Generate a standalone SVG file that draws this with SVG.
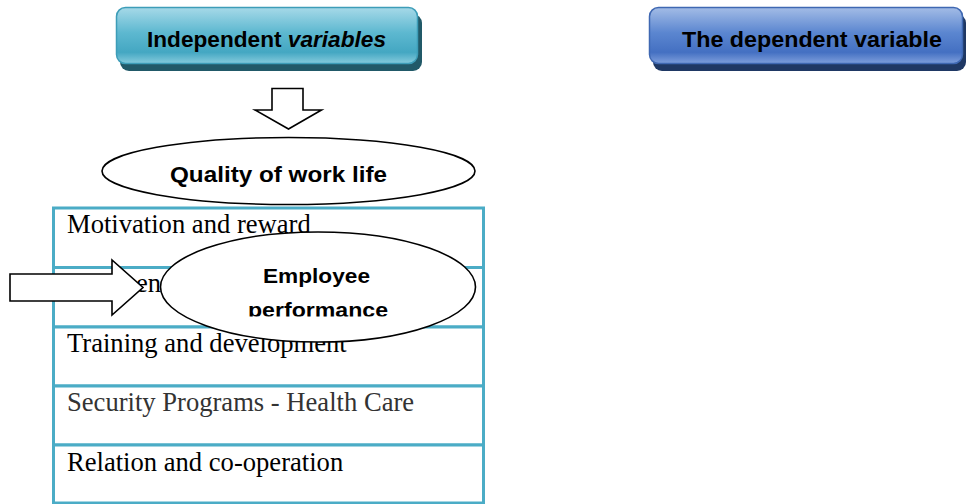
<svg xmlns="http://www.w3.org/2000/svg" width="966" height="504" viewBox="0 0 966 504">
<defs>
<linearGradient id="gTeal" x1="0" y1="0" x2="0" y2="1">
<stop offset="0" stop-color="#A6D9E8"/>
<stop offset="0.45" stop-color="#5DB8D0"/>
<stop offset="0.8" stop-color="#44A7C2"/>
<stop offset="1" stop-color="#86CBDD"/>
</linearGradient>
<linearGradient id="gBlue" x1="0" y1="0" x2="0" y2="1">
<stop offset="0" stop-color="#A3BCE6"/>
<stop offset="0.45" stop-color="#5B86D0"/>
<stop offset="0.8" stop-color="#4470C2"/>
<stop offset="1" stop-color="#7F9FDC"/>
</linearGradient>
<clipPath id="clipEmp"><rect x="150" y="230" width="340" height="86.5"/></clipPath>
</defs>
<style>
.cal{font-family:"Liberation Sans","Open Sans",Arial,sans-serif;font-weight:bold;fill:#000}
.tnr{font-family:"Liberation Serif","Times New Roman",serif;font-size:26.6px;fill:#000}
.row{fill:#fff;stroke:#4BACC6;stroke-width:3}
.blk{fill:#fff;stroke:#000;stroke-width:1.6}
</style>

<g id="independent-variables">
<rect x="120" y="14" width="302" height="57" rx="9" fill="#215968"/>
<rect x="116.5" y="7.5" width="301" height="56" rx="9" fill="url(#gTeal)" stroke="#3D9DB8" stroke-width="1.5"/>
<text class="cal" x="147" y="47" font-size="21.5" textLength="239" lengthAdjust="spacingAndGlyphs">Independent <tspan font-style="italic">variables</tspan></text>
</g>

<g id="dependent-variable">
<rect x="653" y="14" width="313" height="57" rx="9" fill="#1F3864"/>
<rect x="649.5" y="7.5" width="313" height="56" rx="9" fill="url(#gBlue)" stroke="#3F68B2" stroke-width="1.5"/>
<text class="cal" x="682" y="47" font-size="21.5" textLength="260" lengthAdjust="spacingAndGlyphs">The dependent variable</text>
</g>

<g id="factors-table">
<rect class="row" x="53.5" y="208" width="430" height="59.5"/>
<rect class="row" x="53.5" y="267.5" width="430" height="59.5"/>
<rect class="row" x="53.5" y="327" width="430" height="59"/>
<rect class="row" x="53.5" y="386" width="430" height="59"/>
<rect class="row" x="53.5" y="445" width="430" height="58"/>
<text class="tnr" x="67" y="233">Motivation and reward</text>
<text class="tnr" x="136" y="292">en</text>
<text class="tnr" x="67" y="352">Training and development</text>
<text class="tnr" x="67" y="411" style="fill:#333333">Security Programs - Health Care</text>
<text class="tnr" x="67" y="471">Relation and co-operation</text>
</g>

<g id="quality-of-work-life">
<ellipse class="blk" cx="288.5" cy="171" rx="186.5" ry="33.5"/>
<text class="cal" x="170" y="182" font-size="21.5" textLength="217" lengthAdjust="spacingAndGlyphs">Quality of work life</text>
</g>

<g id="employee-performance">
<ellipse class="blk" cx="318" cy="287" rx="157.5" ry="55"/>
<g clip-path="url(#clipEmp)">
<text class="cal" x="263" y="283" font-size="21" textLength="107" lengthAdjust="spacingAndGlyphs">Employee</text>
<text class="cal" x="248" y="317" font-size="21" textLength="140" lengthAdjust="spacingAndGlyphs">performance</text>
</g>
</g>

<g id="connectors">
<polygon class="blk" points="272,88.5 303,88.5 303,110 321.5,110 288.5,129 255,110 272,110"/>
<polygon class="blk" points="10,274 112,274 112,260 143,287.5 112,315 112,301 10,301"/>
</g>
</svg>
